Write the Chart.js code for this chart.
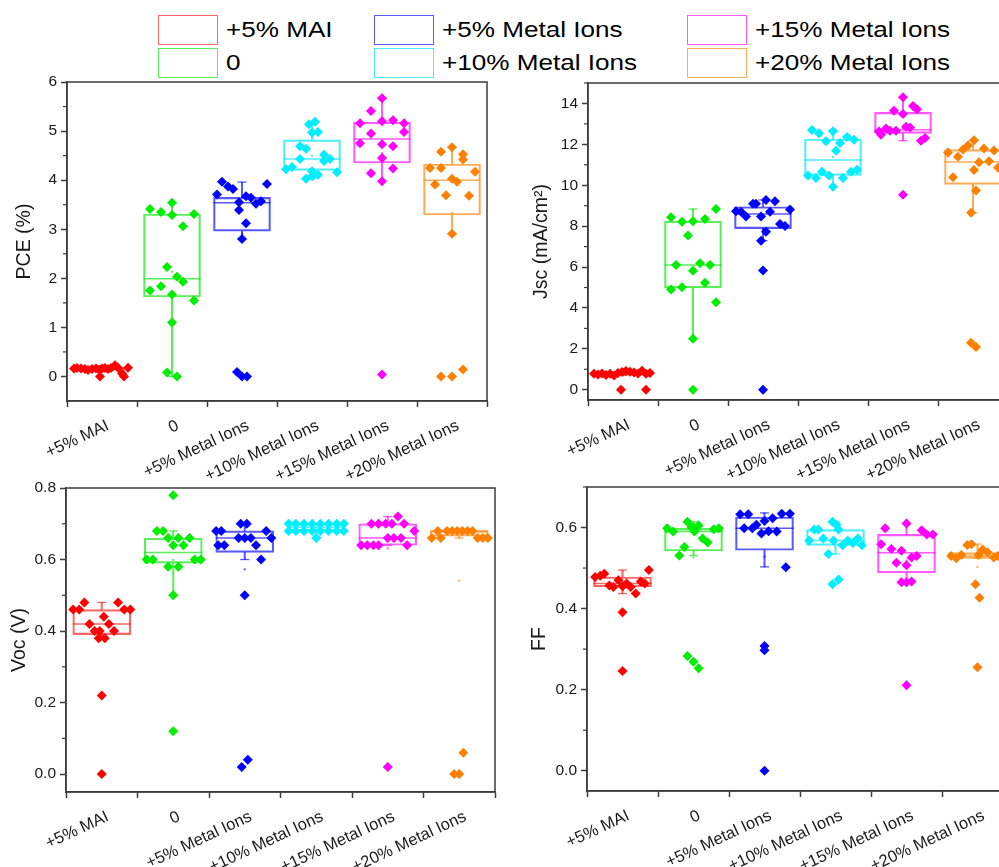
<!DOCTYPE html>
<html><head><meta charset="utf-8">
<script src="https://cdn.jsdelivr.net/npm/chart.js@4.4.0/dist/chart.umd.min.js"></script>
<style>
html,body{margin:0;padding:0;overflow:hidden;background:#fff;width:999px;height:867px;}
body{position:relative;font-family:"Liberation Sans",Arial,sans-serif;}
canvas{position:absolute;}
.box{position:absolute;width:60px;height:30px;box-sizing:border-box;border:1.5px solid;}
.txt{position:absolute;font-size:22.5px;line-height:30px;height:30px;transform:scaleX(1.16);transform-origin:left center;white-space:nowrap;color:#000;}
</style></head><body>
<div id="legend"></div>
<canvas id="cVOC" width="510" height="392" style="left:0;top:475px"></canvas>
<canvas id="cFF" width="520" height="392" style="left:505px;top:475px"></canvas>
<canvas id="cPCE" width="500" height="415" style="left:0;top:70px"></canvas>
<canvas id="cJSC" width="520" height="415" style="left:505px;top:70px"></canvas>
<script>
// ---------------- DATA ----------------
const categories = ["+5% MAI", "0", "+5% Metal Ions", "+10% Metal Ions", "+15% Metal Ions", "+20% Metal Ions"];
// jitter offsets are given in 1/70 of a category step
const JITTER_UNITS = 70;

const pceTickLabels = ["0","1","2","3","4","5","6"];
const pceValues = [
  [.16,.17,.16,.15,.13,.15,.16,.14,.16,.17,.15,.17,.23,.18,.06,.18,0,0],
  [3.41,3.35,3.54,3.29,3.31,3.06,2.23,2.03,1.93,1.84,1.75,1.67,1.55,1.10,0.08,0.0],
  [3.97,3.87,3.82,3.71,3.67,3.64,3.55,3.52,3.57,3.92,3.39,3.12,2.80,0.09,0,0],
  [5.19,5.14,4.97,4.98,4.69,4.64,4.52,4.43,4.43,4.39,4.22,4.27,4.18,4.16,4.11,4.03,4.08],
  [5.67,5.41,5.16,5.20,5.22,5.16,4.98,4.95,4.75,4.73,4.69,4.45,4.14,4.24,3.98,0.04],
  [4.67,4.58,4.53,4.42,4.25,4.25,4.17,4.03,3.97,3.91,3.69,3.68,2.91,0,0,0.14]
];
const pceJitter = [
  [-28,-25,-21,-17,-14,-10,-6,-3,0,3,6,9,13,16,20,26,-2,22],
  [-22,-11,0,0,22,11,-5,5,11,-11,-22,0,22,0,-5,5],
  [-20,-14,-9,-25,4,9,-3,14,19,25,-3,4,0,-5,0,5],
  [3,-3,0,6,-12,-6,12,-12,18,12,-26,-20,0,25,6,-6,0],
  [0,-11,-22,0,11,22,22,-11,-22,0,11,0,-11,11,0,0],
  [0,-11,11,11,-22,-11,23,0,5,-17,-6,17,0,-11,0,11]
];
const pceBox = [[.13,.16,.17],[1.62,1.99,3.31],[2.96,3.54,3.65],[4.20,4.43,4.82],[4.35,4.84,5.18],[3.29,4.0,4.33]];
const pceWhisk = [[.1,.2],[0,3.54],[2.80,3.96],[4.03,5.19],[3.98,5.67],[2.91,4.67]];

const jscTickLabels = ["0","2","4","6","8","10","12","14"];
const jscValues = [
  [.78,.75,.8,.72,.78,.7,.82,.87,.92,.88,.85,.8,.93,.78,.82,0,0],
  [8.43,8.22,8.24,8.35,8.84,7.54,6.1,6.19,6.1,5.82,5.23,4.9,5.01,4.28,2.49,0],
  [8.73,8.7,8.47,9.09,9.09,8.47,9.28,8.7,9.22,8.11,8.01,8.82,7.73,7.29,5.83,0],
  [12.7,12.54,12.64,12.15,12.07,12.36,12.23,11.69,10.48,10.35,10.66,10.48,10.35,10.66,10.76,9.93],
  [14.3,13.64,13.48,13.88,13.72,12.63,12.47,12.78,12.67,12.67,12.86,12.83,12.18,12.31,9.53],
  [11.6,11.39,11.75,11.95,12.2,11.8,11.7,11.13,11.18,10.75,10.85,10.39,9.74,8.65,2.3,2.09]
];
const jscJitter = [
  [-29,-25,-21,-17,-13,-9,-5,-1,3,7,11,15,19,23,27,-2,23],
  [-22,-11,0,12,23,-5,-17,7,17,0,12,-22,-11,23,0,0],
  [-27,-22,-17,-10,-7,-2,3,7,12,17,22,27,3,-2,0,0],
  [-21,-14,0,-7,7,14,21,3,-25,-17,-11,-4,10,18,24,0],
  [0,-9,0,10,14,-24,-22,-17,-13,-7,3,7,18,22,0],
  [-25,-15,-10,-5,1,11,21,6,16,1,25,-20,3,-2,-2,3]
];
const jscBox = [[.75,.8,.88],[4.98,6.1,8.24],[7.88,8.6,8.95],[10.48,11.24,12.26],[12.54,12.72,13.56],[10.04,11.14,11.74]];
const jscWhisk = [[.7,.93],[2.49,8.84],[7.29,9.28],[9.93,12.7],[12.18,14.3],[8.65,12.2]];

const vocTickLabels = ["0.0","0.2","0.4","0.6","0.8"];
const vocValues = [
  [.46,.46,.48,.48,.46,.46,.42,.44,.42,.40,.40,.40,.38,.38,.22,0],
  [.78,.68,.68,.66,.66,.66,.64,.64,.60,.60,.60,.60,.58,.58,.50,.12],
  [.68,.68,.70,.70,.68,.64,.64,.66,.66,.66,.64,.66,.60,.50,.02,.04],
  [.70,.70,.70,.70,.70,.70,.70,.70,.68,.68,.68,.68,.68,.68,.68,.68,.66],
  [.72,.70,.70,.70,.70,.70,.68,.66,.66,.66,.64,.64,.64,.64,.64,.02],
  [.68,.68,.68,.68,.68,.68,.68,.66,.66,.66,.66,.66,.06,0,0]
];
const vocJitter = [
  [-28,-22,-17,16,22,28,-12,2,7,-7,-2,12,-3,3,0,0],
  [0,-16,-10,-5,5,16,0,10,-26,-20,21,27,-5,5,0,0],
  [-28,-23,-4,2,21,-26,-20,-6,0,6,11,26,16,0,-3,3],
  [-27,-20,-12,-4,4,12,20,27,-27,-20,-12,-4,4,12,20,27,0],
  [10,-16,-9,-2,4,16,26,0,6,13,-26,-20,-14,-9,19,0],
  [-21,-12,-7,-2,3,8,13,-27,-18,18,23,28,4,-5,0]
];
const vocBox = [[.39,.42,.46],[.59,.62,.66],[.62,.66,.68],[.68,.69,.70],[.64,.66,.70],[.665,.68,.68]];
const vocWhisk = [[.38,.48],[.50,.68],[.60,.70],[.66,.70],[.64,.72],[.66,.68]];

const ffTickLabels = ["0.0","0.2","0.4","0.6"];
const ffValues = [
  [.478,.481,.486,.457,.453,.470,.455,.462,.453,.437,.467,.462,.495,.391,.246],
  [.598,.59,.614,.601,.605,.59,.573,.563,.596,.598,.552,.531,.283,.269,.253,.600],
  [.633,.633,.598,.598,.607,.585,.616,.591,.623,.59,.634,.634,.502,.308,.297,0],
  [.595,.595,.614,.607,.595,.568,.573,.568,.556,.568,.562,.573,.556,.535,.46,.472],
  [.61,.598,.593,.583,.583,.559,.547,.543,.526,.53,.513,.507,.465,.465,.467,.211],
  [.557,.559,.546,.539,.530,.524,.532,.532,.526,.53,.528,.46,.427,.255]
];
const ffJitter = [
  [-27,-22,-18,-13,-9,-4,0,4,8,13,18,22,26,0,0],
  [-26,-20,-6,-2,5,1,9,14,20,25,-9,-14,-6,0,5,0],
  [-24,-16,-20,-12,-8,-3,0,4,8,12,17,25,21,0,0,0],
  [-21,-17,-3,1,3,-26,-12,-2,7,12,17,22,26,-7,-3,3],
  [0,-21,15,20,26,-25,-15,-5,5,10,-10,0,-5,0,5,0],
  [-10,-6,5,10,-26,-21,-16,1,16,20,25,-2,2,0]
];
const ffBox = [[.454,.462,.478],[.542,.59,.598],[.544,.598,.626],[.556,.568,.595],[.488,.538,.583],[.524,.53,.538]];
const ffWhisk = [[.437,.495],[.531,.614],[.503,.636],[.535,.614],[.465,.61],[.524,.559]];

// ---------------- STYLE ----------------
const pointColors = ["#FF0000","#00EE00","#0000FF","#00EEFF","#FF00FF","#FF8000"];
const boxColors = ["rgba(255,0,0,0.6)","rgba(0,230,0,0.65)","rgba(0,0,255,0.65)","rgba(0,230,255,0.7)","rgba(255,0,255,0.65)","rgba(255,128,0,0.65)"];
const AXIS = "#3c3c3c";
const TXT = "#1a1a1a";
const FAMILY = "'Liberation Sans', Arial, sans-serif";

// legend (HTML)
const legendCols = [158, 374, 687];
const legendRows = [15, 48];
const lg = document.getElementById('legend');
categories.forEach((c, i) => {
  const col = Math.floor(i / 2), row = i % 2;
  const b = document.createElement('div');
  b.className = 'box';
  b.style.left = legendCols[col] + 'px'; b.style.top = legendRows[row] + 'px';
  b.style.borderColor = boxColors[i];
  lg.appendChild(b);
  const t = document.createElement('div');
  t.className = 'txt';
  t.textContent = c;
  t.style.left = (legendCols[col] + 68) + 'px'; t.style.top = legendRows[row] + 'px';
  lg.appendChild(t);
});

const framePlugin = {
  id: 'frame',
  afterDraw(chart) {
    const {ctx, chartArea: a} = chart;
    const y = chart.scales.y;
    ctx.save();
    ctx.strokeStyle = AXIS; ctx.lineWidth = 1.5;
    ctx.strokeRect(a.left, a.top, a.right - a.left, a.bottom - a.top);
    const majors = y.ticks.map(t => t.value);
    const step = majors[1] - majors[0];
    ctx.lineWidth = 1.2;
    for (let k = 0; k < majors.length; k++) {
      const v = majors[k] + step / 2;
      if (v > y.max + 1e-9) continue;
      const py = y.getPixelForValue(v);
      ctx.beginPath(); ctx.moveTo(a.left, py); ctx.lineTo(a.left - 4, py); ctx.stroke();
    }
    ctx.restore();
  }
};

function makeChart(id, o) {
  const datasets = [];
  categories.forEach((c, i) => {
    datasets.push({
      type: 'scatter',
      data: o.values[i].map((v, k) => ({x: i + o.jitter[i][k] / JITTER_UNITS, y: v})),
      pointStyle: 'rectRot', pointRadius: 5, pointBackgroundColor: pointColors[i],
      pointBorderWidth: 0, pointBorderColor: pointColors[i], order: 0
    });
  });
  // means
  datasets.push({
    type: 'scatter',
    data: o.values.map((vals, i) => ({x: i, y: vals.reduce((s, v) => s + v, 0) / vals.length})),
    pointStyle: 'rect', pointRadius: 1.4, pointBackgroundColor: boxColors, pointBorderWidth: 0, order: 1
  });
  // medians
  datasets.push({
    type: 'scatter',
    data: o.box.map((b, i) => ({x: i, y: b[1]})),
    pointStyle: 'line', pointRadius: o.barW / 2, pointBorderColor: boxColors, pointBorderWidth: 1.5, order: 2
  });
  // whisker caps
  const capData = [], capColors = [];
  o.whisk.forEach((w, i) => { capData.push({x: i, y: w[0]}, {x: i, y: w[1]}); capColors.push(boxColors[i], boxColors[i]); });
  datasets.push({
    type: 'scatter', data: capData,
    pointStyle: 'line', pointRadius: 4.5, pointBorderColor: capColors, pointBorderWidth: 1.3, order: 2
  });
  // boxes
  datasets.push({
    type: 'bar', data: o.box.map((b, i) => ({x: i, y: [b[0], b[2]]})),
    backgroundColor: 'rgba(0,0,0,0)', borderColor: boxColors, borderWidth: 1.5, borderSkipped: false,
    barThickness: o.barW, grouped: false, order: 3
  });
  // whiskers
  datasets.push({
    type: 'bar', data: o.box.map((b, i) => ({x: i, y: [b[2], o.whisk[i][1]]})),
    backgroundColor: boxColors, borderWidth: 0, barThickness: 1.4, grouped: false, order: 3
  });
  datasets.push({
    type: 'bar', data: o.box.map((b, i) => ({x: i, y: [o.whisk[i][0], b[0]]})),
    backgroundColor: boxColors, borderWidth: 0, barThickness: 1.4, grouped: false, order: 3
  });

  new Chart(document.getElementById(id), {
    type: 'scatter',
    data: {datasets},
    plugins: [framePlugin],
    options: {
      responsive: false, animation: false, devicePixelRatio: 1, events: [],
      layout: {autoPadding: false, padding: {left: 0, top: o.padTop, right: o.padRight, bottom: 0}},
      plugins: {legend: {display: false}, tooltip: {enabled: false}},
      scales: {
        x: {
          type: 'linear', min: -0.5, max: 5.5, offset: false,
          afterBuildTicks: s => { s.ticks = categories.map((_, i) => ({value: i})); },
          afterFit: s => { s.height = o.xAxisH; s.paddingLeft = 0; s.paddingRight = 0; },
          ticks: {callback: v => categories[v], minRotation: 25, maxRotation: 25, autoSkip: false,
                  font: {size: 16.5, family: FAMILY}, color: TXT, padding: 9, labelOffset: 6},
          grid: {drawOnChartArea: false, tickLength: 6, tickColor: AXIS, tickWidth: 1.5},
          border: {color: AXIS, width: 1.5}
        },
        y: {
          type: 'linear', min: o.yMin, max: o.yMax,
          afterBuildTicks: s => { s.ticks = o.tickLabels.map(t => ({value: parseFloat(t)})); },
          afterFit: s => { s.width = o.yAxisW; s.paddingTop = 0; s.paddingBottom = 0; },
          ticks: {callback: (v, i) => o.tickLabels[i], font: {size: 15.5, family: FAMILY}, color: TXT, padding: 4},
          grid: {drawOnChartArea: false, tickLength: 6, tickColor: AXIS, tickWidth: 1.5},
          border: {color: AXIS, width: 1.5},
          title: {display: true, text: o.title, font: {size: 19.5, family: FAMILY}, color: TXT,
                  padding: {top: o.titlePad, bottom: 0}}
        }
      }
    }
  });
}

makeChart('cPCE', {values: pceValues, jitter: pceJitter, box: pceBox, whisk: pceWhisk, tickLabels: pceTickLabels,
  yMin: -0.5, yMax: 6, title: 'PCE (%)', barW: 57, padTop: 12, padRight: 13, yAxisW: 67, xAxisH: 84, titlePad: 13.3});
makeChart('cJSC', {values: jscValues, jitter: jscJitter, box: jscBox, whisk: jscWhisk, tickLabels: jscTickLabels,
  yMin: -0.5, yMax: 15, title: 'Jsc (mA/cm²)', barW: 57, padTop: 13, padRight: 17, yAxisW: 83, xAxisH: 85, titlePad: 25});
makeChart('cVOC', {values: vocValues, jitter: vocJitter, box: vocBox, whisk: vocWhisk, tickLabels: vocTickLabels,
  yMin: -0.05, yMax: 0.8, title: 'Voc (V)', barW: 58, padTop: 13, padRight: 15, yAxisW: 66, xAxisH: 75, titlePad: 8.3});
makeChart('cFF', {values: ffValues, jitter: ffJitter, box: ffBox, whisk: ffWhisk, tickLabels: ffTickLabels,
  yMin: -0.05, yMax: 0.7, title: 'FF', barW: 58, padTop: 12, padRight: 12, yAxisW: 82, xAxisH: 76, titlePad: 23.3});
</script>
</body></html>
